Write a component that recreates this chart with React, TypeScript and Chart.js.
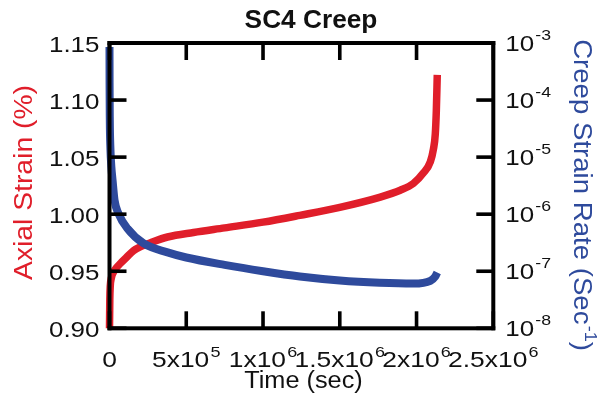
import React, { useEffect, useRef } from "react";
import { Chart, registerables } from "chart.js";

Chart.register(...registerables);

// ---- Data ----
const strainTime = [0, 2000, 5000, 12000, 25000, 45000, 72000, 110000, 156000, 210000, 267000, 378000, 547000, 750000, 1000000, 1240000, 1500000, 1764000, 1894000, 1980000, 2044000, 2090000, 2110000, 2122000, 2129000, 2135000];
const strainValues = [0.900, 0.925, 0.937, 0.944, 0.949, 0.953, 0.957, 0.962, 0.968, 0.972, 0.975, 0.980, 0.984, 0.988, 0.993, 0.999, 1.006, 1.015, 1.021, 1.027, 1.036, 1.046, 1.057, 1.070, 1.091, 1.122];

const rateTime = [0, 500, 2000, 6000, 12000, 20000, 33000, 59000, 117000, 220000, 378000, 500000, 750000, 1000000, 1240000, 1500000, 1760000, 1980000, 2090000, 2122000, 2135000];
const rateValues = [8.5e-4, 2e-4, 4.5e-5, 1.4e-5, 6.8e-6, 3.9e-6, 1.74e-6, 1.02e-6, 5.6e-7, 3.1e-7, 2.14e-7, 1.74e-7, 1.29e-7, 1.0e-7, 8.1e-8, 6.9e-8, 6.3e-8, 6.1e-8, 6.8e-8, 8.1e-8, 9.5e-8];

const xTickValues = [0, 5e5, 1e6, 1.5e6, 2e6, 2.5e6];
const xTickLabels: [string, string][] = [["0", ""], ["5x10", "5"], ["1x10", "6"], ["1.5x10", "6"], ["2x10", "6"], ["2.5x10", "6"]];
const leftTickValues = [0.9, 0.95, 1.0, 1.05, 1.1, 1.15];
const leftTickLabels = ["0.90", "0.95", "1.00", "1.05", "1.10", "1.15"];
const rightTickValues = [1e-8, 1e-7, 1e-6, 1e-5, 1e-4, 1e-3];
const rightTickLabels: [string, string][] = [["10", "-8"], ["10", "-7"], ["10", "-6"], ["10", "-5"], ["10", "-4"], ["10", "-3"]];

const titleText = "SC4 Creep";
const xTitle = "Time (sec)";
const leftTitle = "Axial Strain (%)";
const rightTitle: [string, boolean][] = [["Creep Strain Rate (Sec", false], ["-1", true], [")", false]];

const RED = "#e01e2a";
const BLUE = "#2e4a9c";
const TICK_COLOR = "#000";
const FONT = "'Liberation Sans', Arial, Helvetica, sans-serif";

type Seg = [string, boolean];

function drawRich(
  ctx: CanvasRenderingContext2D,
  segs: Seg[],
  x: number,
  y: number,
  o: { size: number; supSize: number; supRise: number; bold?: boolean; color: string; align: "left" | "center" | "right"; sx: number; sy: number; rot?: number }
) {
  ctx.save();
  ctx.translate(x, y);
  if (o.rot) ctx.rotate(o.rot);
  ctx.scale(o.sx, o.sy);
  ctx.fillStyle = o.color;
  ctx.textAlign = "left";
  ctx.textBaseline = "alphabetic";
  const w = o.bold ? "bold " : "";
  const widths = segs.map(([t, sup]) => {
    ctx.font = `${w}${sup ? o.supSize : o.size}px ${FONT}`;
    return ctx.measureText(t).width + (sup ? 1 : 0);
  });
  const total = widths.reduce((a, b) => a + b, 0);
  let cx = o.align === "center" ? -total / 2 : o.align === "right" ? -total : 0;
  segs.forEach(([t, sup], i) => {
    ctx.font = `${w}${sup ? o.supSize : o.size}px ${FONT}`;
    ctx.fillText(t, cx + (sup ? 1 : 0), sup ? -o.supRise : 0);
    cx += widths[i];
  });
  ctx.restore();
}

const framePlugin = {
  id: "framePlugin",
  afterDraw(chart: any) {
    const ctx: CanvasRenderingContext2D = chart.ctx;
    const { left, right, top, bottom } = chart.chartArea;
    const xs = chart.scales.x;
    const ys = chart.scales.y;
    const y2 = chart.scales.y2;
    const TL = 17;
    const TW = 3.6;
    const FW = 4;
    ctx.save();
    ctx.fillStyle = "#000";
    ctx.fillRect(left - FW / 2, top - FW / 2, right - left + FW, FW);
    ctx.fillRect(left - FW / 2, bottom - FW / 2, right - left + FW, FW);
    ctx.fillRect(left - FW / 2, top - FW / 2, FW, bottom - top + FW);
    ctx.fillRect(right - FW / 2, top - FW / 2, FW, bottom - top + FW);
    ctx.fillStyle = TICK_COLOR;
    xTickValues.forEach((v) => {
      const px = xs.getPixelForValue(v);
      ctx.fillRect(px - TW / 2, bottom - TL, TW, TL);
      ctx.fillRect(px - TW / 2, top, TW, TL);
    });
    leftTickValues.forEach((v) => {
      const py = ys.getPixelForValue(v);
      ctx.fillRect(left, py - TW / 2, TL, TW);
    });
    rightTickValues.forEach((v) => {
      const py = y2.getPixelForValue(v);
      ctx.fillRect(right - TL, py - TW / 2, TL, TW);
    });
    ctx.restore();

    xTickValues.forEach((v, i) => {
      const px = xs.getPixelForValue(v);
      const [m, s] = xTickLabels[i];
      const segs: Seg[] = s ? [[m, false], [s, true]] : [[m, false]];
      drawRich(ctx, segs, px, bottom + 39, { size: 22, supSize: 15, supRise: 10, color: "#111", align: "center", sx: 1.2, sy: 1 });
    });
    leftTickValues.forEach((v, i) => {
      const py = ys.getPixelForValue(v);
      drawRich(ctx, [[leftTickLabels[i], false]], left - 10, py + 9, { size: 22, supSize: 15, supRise: 10, color: "#111", align: "right", sx: 1.18, sy: 1 });
    });
    rightTickValues.forEach((v, i) => {
      const py = y2.getPixelForValue(v);
      const [m, s] = rightTickLabels[i];
      drawRich(ctx, [[m, false], [s, true]], right + 12, py + 8, { size: 22, supSize: 15, supRise: 11, color: "#111", align: "left", sx: 1.18, sy: 1 });
    });

    drawRich(ctx, [[titleText, false]], 311, 28, { size: 25, supSize: 15, supRise: 10, bold: true, color: "#111", align: "center", sx: 1.05, sy: 1 });
    drawRich(ctx, [[xTitle, false]], 303.5, 388, { size: 23, supSize: 15, supRise: 10, color: "#111", align: "center", sx: 1.1, sy: 1 });
    drawRich(ctx, [[leftTitle, false]], 32, 182.5, { size: 23, supSize: 15, supRise: 10, color: RED, align: "center", sx: 1.23, sy: 1.15, rot: -Math.PI / 2 });
    drawRich(ctx, rightTitle, 573.5, 195, { size: 23, supSize: 15, supRise: 10, color: BLUE, align: "center", sx: 1.2, sy: 1.15, rot: Math.PI / 2 });
  },
};

export default function App() {
  const ref = useRef<HTMLCanvasElement | null>(null);
  useEffect(() => {
    if (!ref.current) return;
    const chart = new Chart(ref.current, {
      type: "line",
      data: {
        datasets: [
          {
            label: "Axial Strain",
            data: strainTime.map((t, i) => ({ x: t, y: strainValues[i] })),
            yAxisID: "y",
            borderColor: RED,
            backgroundColor: RED,
            borderWidth: 7.5,
            pointRadius: 0,
            cubicInterpolationMode: "monotone",
            clip: false,
            order: 1,
          } as any,
          {
            label: "Creep Strain Rate",
            data: rateTime.map((t, i) => ({ x: t, y: rateValues[i] })),
            yAxisID: "y2",
            borderColor: BLUE,
            backgroundColor: BLUE,
            borderWidth: 8,
            pointRadius: 0,
            cubicInterpolationMode: "monotone",
            clip: false,
            order: 0,
          } as any,
        ],
      },
      options: {
        responsive: false,
        animation: false,
        devicePixelRatio: 1,
        layout: { padding: { left: 109.5, top: 43, right: 111.7, bottom: 69.7 } },
        plugins: { legend: { display: false }, title: { display: false }, tooltip: { enabled: false } },
        events: [],
        scales: {
          x: { type: "linear", min: 0, max: 2.5e6, display: false },
          y: { type: "linear", min: 0.9, max: 1.15, display: false, position: "left" },
          y2: { type: "logarithmic", min: 1e-8, max: 1e-3, display: false, position: "right" },
        },
      },
      plugins: [framePlugin],
    });
    return () => chart.destroy();
  }, []);
  return (
    <div style={{ position: "fixed", left: 0, top: 0, width: 605, height: 398, background: "#fff" }}>
      <canvas ref={ref} width={605} height={398} style={{ display: "block" }} />
    </div>
  );
}
